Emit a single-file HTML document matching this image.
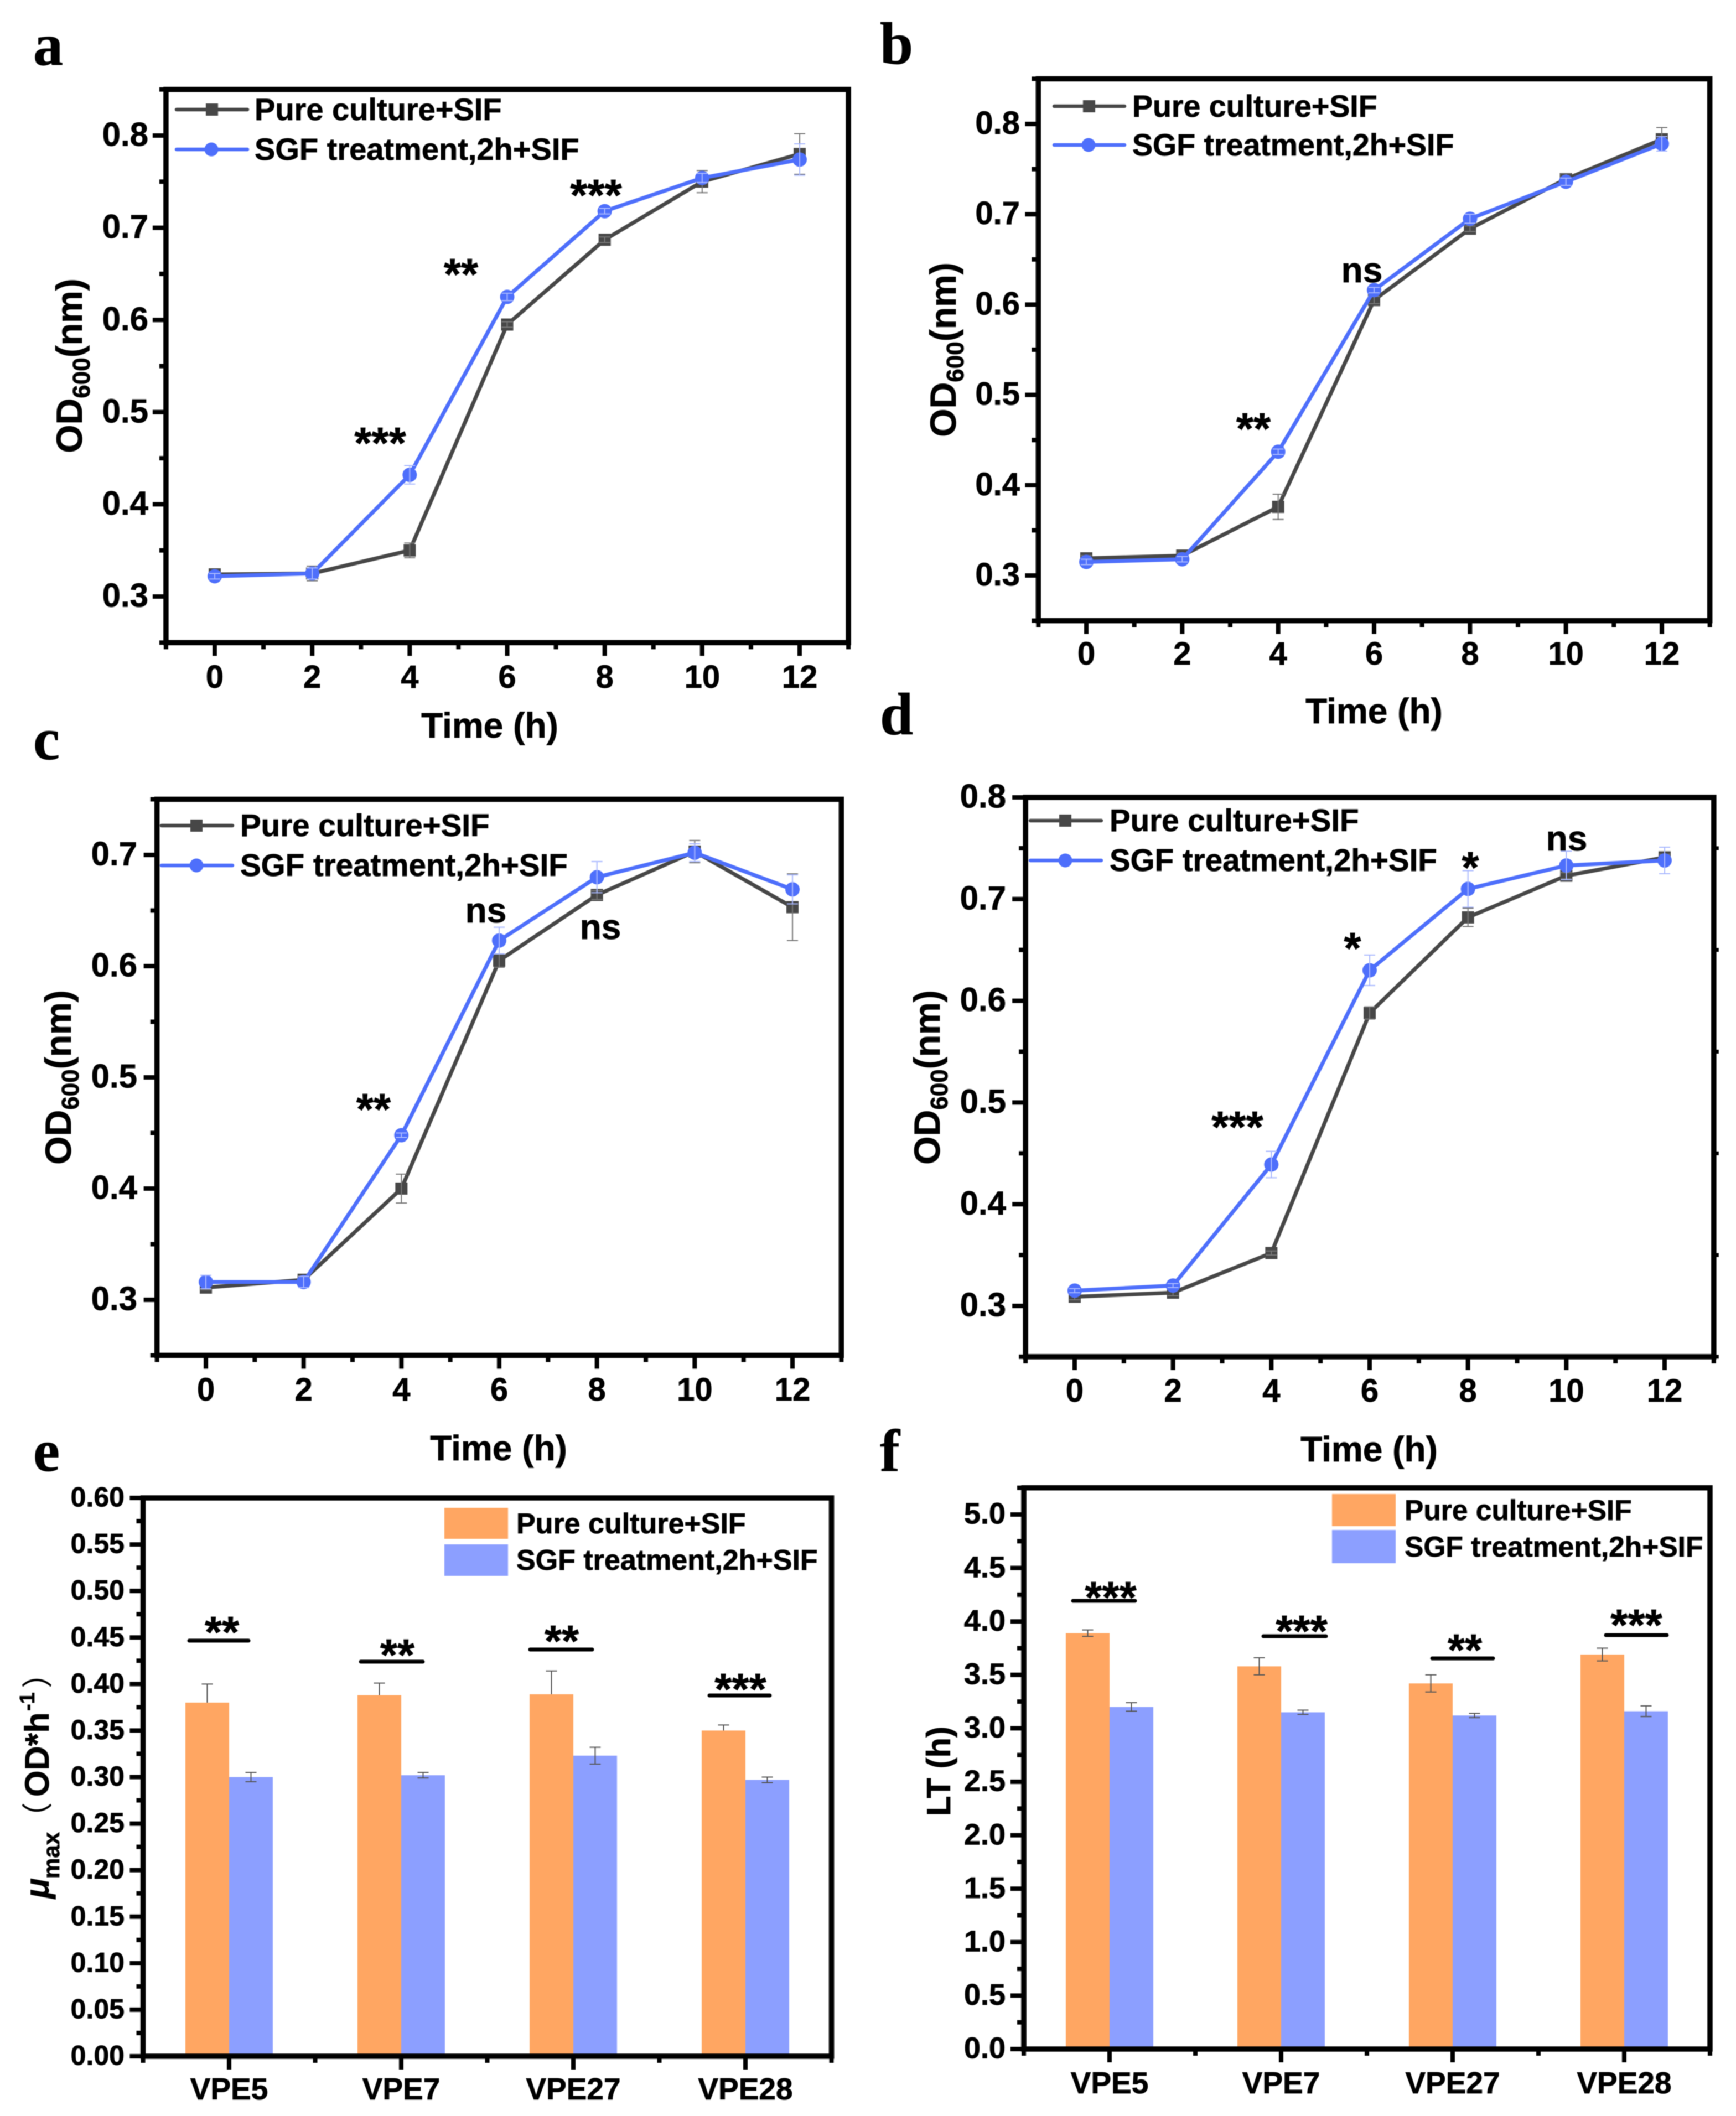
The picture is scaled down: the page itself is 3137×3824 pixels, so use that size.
<!DOCTYPE html>
<html lang="en">
<head>
<meta charset="utf-8">
<title>Growth curves and kinetic parameters</title>
<style>
html,body{margin:0;padding:0;background:#fff;}
svg{display:block;filter:blur(0.9px);}
text{font-family:"Liberation Sans","Noto Sans CJK SC",sans-serif;font-weight:bold;fill:#000;stroke:#000;stroke-width:0.7px;}
.letter{font-family:"Liberation Serif",serif;font-size:108px;}
.leg{font-size:56px;}
.leg2{font-size:52px;}
.title{font-size:64px;text-anchor:middle;}
.ylab{font-size:66px;text-anchor:middle;}
.sub{font-size:44px;}
.star{font-size:80px;text-anchor:middle;}
.ns{font-size:64px;text-anchor:middle;}
.legline{stroke-linecap:round;stroke-width:6.5;}
.sigbar{stroke:#000;stroke-width:7;stroke-linecap:round;}
.paren{font-weight:normal;font-size:56px;stroke-width:0;}
</style>
</head>
<body>
<svg id="figure" xmlns="http://www.w3.org/2000/svg" width="3137" height="3824" viewBox="0 0 3137 3824">
  <rect x="0" y="0" width="3137" height="3824" fill="#fff"/>
  <g id="marks"></g>

  <text class="letter" x="60" y="117">a</text>
  <text class="letter" x="1590" y="115">b</text>
  <text class="letter" x="60" y="1372">c</text>
  <text class="letter" x="1590" y="1327">d</text>
  <text class="letter" x="60" y="2658">e</text>
  <text class="letter" x="1590" y="2658">f</text>

  <text class="title" x="885" y="1333">Time (h)</text>
  <text class="title" x="2483" y="1307">Time (h)</text>
  <text class="title" x="901" y="2639">Time (h)</text>
  <text class="title" x="2474" y="2641">Time (h)</text>

  <text class="ylab" transform="translate(148,661) rotate(-90)">OD<tspan class="sub" dy="14">600</tspan><tspan dy="-14">(nm)</tspan></text>
  <text class="ylab" transform="translate(1727,632) rotate(-90)">OD<tspan class="sub" dy="14">600</tspan><tspan dy="-14">(nm)</tspan></text>
  <text class="ylab" transform="translate(128,1947) rotate(-90)">OD<tspan class="sub" dy="14">600</tspan><tspan dy="-14">(nm)</tspan></text>
  <text class="ylab" transform="translate(1698,1947) rotate(-90)">OD<tspan class="sub" dy="14">600</tspan><tspan dy="-14">(nm)</tspan></text>
  <text font-size="61" transform="translate(88,3431) rotate(-90)"><tspan font-style="italic" font-size="61" x="0" y="0">μ</tspan><tspan font-size="42" x="36" y="19">max</tspan><tspan class="paren" x="118" y="0">（</tspan><tspan x="184" y="0">OD*h</tspan><tspan font-size="38" x="339" y="-26">-1</tspan><tspan class="paren" x="380" y="0">）</tspan></text>
  <text font-size="60" text-anchor="middle" transform="translate(1717,3201) rotate(-90)">LT (h)</text>

  <g>
    <line class="legline" x1="319" x2="447" y1="198" y2="198" stroke="#474747"/>
    <rect x="372" y="187" width="22" height="22" fill="#474747"/>
    <text class="leg" x="460" y="217">Pure culture+SIF</text>
    <line class="legline" x1="319" x2="447" y1="270" y2="270" stroke="#4e6ffb"/>
    <circle cx="382" cy="270" r="12.5" fill="#4e6ffb"/>
    <text class="leg" x="460" y="289">SGF treatment,2h+SIF</text>
  </g>
  <g>
    <line class="legline" x1="1905" x2="2032" y1="192" y2="192" stroke="#474747"/>
    <rect x="1957" y="181" width="22" height="22" fill="#474747"/>
    <text class="leg" style="font-size:55.5px" x="2046" y="211">Pure culture+SIF</text>
    <line class="legline" x1="1905" x2="2032" y1="262" y2="262" stroke="#4e6ffb"/>
    <circle cx="1967" cy="262" r="12.5" fill="#4e6ffb"/>
    <text class="leg" style="font-size:55.5px" x="2046" y="281">SGF treatment,2h+SIF</text>
  </g>
  <g>
    <line class="legline" x1="292" x2="420" y1="1492" y2="1492" stroke="#474747"/>
    <rect x="344" y="1481" width="22" height="22" fill="#474747"/>
    <text class="leg" style="font-size:56.5px" x="434" y="1511">Pure culture+SIF</text>
    <line class="legline" x1="292" x2="420" y1="1564" y2="1564" stroke="#4e6ffb"/>
    <circle cx="355" cy="1564" r="12.5" fill="#4e6ffb"/>
    <text class="leg" style="font-size:56.5px" x="434" y="1583">SGF treatment,2h+SIF</text>
  </g>
  <g>
    <line class="legline" x1="1862" x2="1990" y1="1483" y2="1483" stroke="#474747"/>
    <rect x="1914" y="1472" width="22" height="22" fill="#474747"/>
    <text class="leg" style="font-size:56.5px" x="2005" y="1502">Pure culture+SIF</text>
    <line class="legline" x1="1862" x2="1990" y1="1555" y2="1555" stroke="#4e6ffb"/>
    <circle cx="1925" cy="1555" r="12.5" fill="#4e6ffb"/>
    <text class="leg" style="font-size:56.5px" x="2005" y="1574">SGF treatment,2h+SIF</text>
  </g>
  <g>
    <rect x="803" y="2725" width="115" height="56" fill="#ffa662"/>
    <text class="leg2" x="933" y="2771">Pure culture+SIF</text>
    <rect x="803" y="2791" width="115" height="57" fill="#8c9fff"/>
    <text class="leg2" x="933" y="2837">SGF treatment,2h+SIF</text>
  </g>
  <g>
    <rect x="2407" y="2700" width="115" height="58" fill="#ffa662"/>
    <text class="leg2" style="font-size:51.5px" x="2538" y="2747">Pure culture+SIF</text>
    <rect x="2407" y="2765" width="115" height="60" fill="#8c9fff"/>
    <text class="leg2" style="font-size:51.5px" x="2538" y="2813">SGF treatment,2h+SIF</text>
  </g>

  <g>
    <text class="star" x="687" y="828">***</text>
    <text class="star" x="833" y="523">**</text>
    <text class="star" x="1077" y="380">***</text>
  </g>
  <g>
    <text class="star" x="2265" y="802">**</text>
    <text class="ns" x="2461" y="510">ns</text>
  </g>
  <g>
    <text class="star" x="675" y="2032">**</text>
    <text class="ns" x="878" y="1667">ns</text>
    <text class="ns" x="1085" y="1697">ns</text>
  </g>
  <g>
    <text class="star" x="2236" y="2064">***</text>
    <text class="star" x="2444" y="1741">*</text>
    <text class="star" x="2657" y="1595">*</text>
    <text class="ns" x="2831" y="1537">ns</text>
  </g>
  <g>
    <line class="sigbar" x1="342" x2="449" y1="2965" y2="2965"/>
    <text class="star" x="401" y="2977">**</text>
    <line class="sigbar" x1="652" x2="764" y1="3003" y2="3003"/>
    <text class="star" x="718" y="3018">**</text>
    <line class="sigbar" x1="958" x2="1070" y1="2981" y2="2981"/>
    <text class="star" x="1015" y="2993">**</text>
    <line class="sigbar" x1="1282" x2="1391" y1="3064" y2="3064"/>
    <text class="star" x="1338" y="3080">***</text>
  </g>
  <g>
    <line class="sigbar" x1="1939" x2="2051" y1="2893" y2="2893"/>
    <text class="star" x="2007" y="2914">***</text>
    <line class="sigbar" x1="2283" x2="2396" y1="2957" y2="2957"/>
    <text class="star" x="2352" y="2975">***</text>
    <line class="sigbar" x1="2588" x2="2698" y1="2997" y2="2997"/>
    <text class="star" x="2647" y="3009">**</text>
    <line class="sigbar" x1="2902" x2="3012" y1="2955" y2="2955"/>
    <text class="star" x="2957" y="2964">***</text>
  </g>
</svg>
<script>
// ---- chart data ----
const times = [0, 2, 4, 6, 8, 10, 12];
const timeTickLabels = ['0', '2', '4', '6', '8', '10', '12'];
const timeMinor = [-1, 1, 3, 5, 7, 9, 11, 13];

const aPure = [0.324, 0.325, 0.350, 0.595, 0.687, 0.750, 0.780];
const aSgf = [0.322, 0.325, 0.432, 0.625, 0.718, 0.754, 0.774];
const aPureErr = [0.003, 0.008, 0.008, 0.003, 0.003, 0.012, 0.022];
const aSgfErr = [0.003, 0.006, 0.010, 0.004, 0.003, 0.005, 0.017];

const bPure = [0.319, 0.322, 0.376, 0.605, 0.684, 0.739, 0.783];
const bSgf = [0.315, 0.318, 0.437, 0.616, 0.695, 0.736, 0.778];
const bPureErr = [0.003, 0.003, 0.014, 0.004, 0.003, 0.006, 0.013];
const bSgfErr = [0.003, 0.003, 0.003, 0.003, 0.005, 0.004, 0.008];

const cPure = [0.311, 0.318, 0.400, 0.605, 0.664, 0.703, 0.653];
const cSgf = [0.316, 0.316, 0.448, 0.623, 0.680, 0.702, 0.669];
const cPureErr = [0.002, 0.003, 0.013, 0.006, 0.004, 0.010, 0.030];
const cSgfErr = [0.006, 0.005, 0.002, 0.012, 0.014, 0.008, 0.013];

const dPure = [0.309, 0.313, 0.352, 0.588, 0.682, 0.723, 0.741];
const dSgf = [0.315, 0.320, 0.439, 0.630, 0.710, 0.733, 0.738];
const dPureErr = [0.003, 0.003, 0.002, 0.006, 0.009, 0.003, 0.003];
const dSgfErr = [0.002, 0.002, 0.013, 0.015, 0.018, 0.014, 0.013];

const strains = ['VPE5', 'VPE7', 'VPE27', 'VPE28'];
const ePure = [0.380, 0.388, 0.389, 0.350];
const eSgf = [0.300, 0.302, 0.323, 0.297];
const ePureErr = [0.020, 0.013, 0.025, 0.006];
const eSgfErr = [0.005, 0.003, 0.009, 0.003];

const fPure = [3.89, 3.58, 3.42, 3.69];
const fSgf = [3.20, 3.15, 3.12, 3.16];
const fPureErr = [0.03, 0.08, 0.08, 0.06];
const fSgfErr = [0.04, 0.02, 0.02, 0.05];

const abTicks = ['0.3', '0.4', '0.5', '0.6', '0.7', '0.8'];
const abMinor = [0.25, 0.35, 0.45, 0.55, 0.65, 0.75, 0.85];
const cTicks = ['0.3', '0.4', '0.5', '0.6', '0.7'];
const cMinor = [0.25, 0.35, 0.45, 0.55, 0.65, 0.75];
const dTicks = ['0.3', '0.4', '0.5', '0.6', '0.7', '0.8'];
const dMinor = [0.25, 0.35, 0.45, 0.55, 0.65, 0.75];
const eTicks = ['0.00', '0.05', '0.10', '0.15', '0.20', '0.25', '0.30', '0.35', '0.40', '0.45', '0.50', '0.55', '0.60'];
const eMinor = [0.025, 0.075, 0.125, 0.175, 0.225, 0.275, 0.325, 0.375, 0.425, 0.475, 0.525, 0.575];
const fTicks = ['0.0', '0.5', '1.0', '1.5', '2.0', '2.5', '3.0', '3.5', '4.0', '4.5', '5.0'];
const fMinor = [0.25, 0.75, 1.25, 1.75, 2.25, 2.75, 3.25, 3.75, 4.25, 4.75, 5.25];

// ---- rendering ----
const NS = 'http://www.w3.org/2000/svg';
const root = document.getElementById('marks');
const PURE_LINE = '#474747', SGF_LINE = '#4e6ffb';
const PURE_BAR = '#ffa662', SGF_BAR = '#8c9fff';

function mk(parent, tag, attrs, txt) {
  const el = document.createElementNS(NS, tag);
  for (const k in attrs) el.setAttribute(k, attrs[k]);
  if (txt !== undefined) el.textContent = txt;
  parent.appendChild(el);
  return el;
}
function axis(pxA, pxB, vA, vB) {
  const k = (pxB - pxA) / (vB - vA);
  return function (v) { return pxA + (v - vA) * k; };
}
function group(parent, name) {
  const g = mk(parent, 'g', {});
  
  
  return g;
}
function seg(parent, name, x1, y1, x2, y2, color, w, op) {
  const el = mk(parent, 'line', { x1: x1, y1: y1, x2: x2, y2: y2, stroke: color, 'stroke-width': w, 'stroke-opacity': op === undefined ? 1 : op });
  
  
  return el;
}

function drawFrame(g, p, X, Y) {
  const x0 = X(p.xDom[0]), x1 = X(p.xDom[1]), y0 = Y(p.yDom[0]), y1 = Y(p.yDom[1]);
  const frame = mk(g, 'rect', { x: x0, y: y1, width: x1 - x0, height: y0 - y1, fill: 'none', stroke: '#000', 'stroke-width': 9.5 });
  
  
  return { x0: x0, x1: x1, y0: y0, y1: y1 };
}
function drawYTicks(g, p, Y, b) {
  p.yTicks.forEach(function (lab) {
    const v = parseFloat(lab), y = Y(v);
    seg(g, 'y-tick', b.x0 - 24, y, b.x0, y, '#000', 8);
    const t = mk(g, 'text', { x: p.yLabelX, y: y + p.yFont * 0.31, 'font-size': p.yFont, 'text-anchor': 'end' }, lab);
    
    
  });
  p.yMinor.forEach(function (v) {
    const y = Y(v);
    seg(g, 'y-minor-tick', b.x0 - 12, y, b.x0, y, '#000', 8);
    if (p.rightMinor) seg(g, 'y-minor-tick-right', b.x1, y, b.x1 + 9, y, '#000', 7);
  });
}

function drawLinePanel(p) {
  const g = group(root, 'line-chart-' + p.id);
  const X = axis(p.xPx[0], p.xPx[1], 0, 12);
  const Y = axis(p.yPx[0], p.yPx[1], p.yVal[0], p.yVal[1]);
  const b = drawFrame(g, p, X, Y);
  timeTickLabels.forEach(function (lab) {
    const v = parseFloat(lab), x = X(v);
    seg(g, 'x-tick', x, b.y0, x, b.y0 + 24, '#000', 8);
    const t = mk(g, 'text', { x: x, y: p.xLabelY, 'font-size': p.xFont, 'text-anchor': 'middle' }, lab);
    
    
  });
  timeMinor.forEach(function (v) {
    seg(g, 'x-minor-tick', X(v), b.y0, X(v), b.y0 + 12, '#000', 8);
  });
  drawYTicks(g, p, Y, b);

  const sPure = group(g, 'series-pure-culture');
  const sSgf = group(g, 'series-sgf-treatment');
  const linePure = mk(sPure, 'polyline', { points: times.map(function (t, i) { return X(t) + ',' + Y(p.pure[i]); }).join(' '), fill: 'none', stroke: PURE_LINE, 'stroke-width': 7, 'stroke-linejoin': 'round' });
  
  
  times.forEach(function (t, i) {
    const pt = mk(sPure, 'rect', { x: X(t) - 11, y: Y(p.pure[i]) - 11, width: 22, height: 22, fill: PURE_LINE });
    
    
  });
  const lineSgf = mk(sSgf, 'polyline', { points: times.map(function (t, i) { return X(t) + ',' + Y(p.sgf[i]); }).join(' '), fill: 'none', stroke: SGF_LINE, 'stroke-width': 7, 'stroke-linejoin': 'round' });
  
  
  times.forEach(function (t, i) {
    const pt = mk(sSgf, 'circle', { cx: X(t), cy: Y(p.sgf[i]), r: 13, fill: SGF_LINE });
    
    
  });
  times.forEach(function (t, i) {
    const x = X(t);
    const pu = Y(p.pure[i] + p.pureErr[i]), pd = Y(p.pure[i] - p.pureErr[i]);
    seg(sPure, 'error-bar-pure', x, pu, x, pd, '#777', 2);
    seg(sPure, 'error-cap-pure', x - 10, pu, x + 10, pu, '#777', 2);
    seg(sPure, 'error-cap-pure', x - 10, pd, x + 10, pd, '#777', 2);
    const su = Y(p.sgf[i] + p.sgfErr[i]), sd = Y(p.sgf[i] - p.sgfErr[i]);
    seg(sSgf, 'error-bar-sgf', x, su, x, sd, '#a9b8ff', 2);
    seg(sSgf, 'error-cap-sgf', x - 10, su, x + 10, su, '#a9b8ff', 2);
    seg(sSgf, 'error-cap-sgf', x - 10, sd, x + 10, sd, '#a9b8ff', 2);
  });
}

function drawBarPanel(p) {
  const g = group(root, 'bar-chart-' + p.id);
  const X = axis(p.xPx[0], p.xPx[1], 0, 3);
  const Y = axis(p.yPx[0], p.yPx[1], p.yVal[0], p.yVal[1]);
  const w = 79;
  strains.forEach(function (name, i) {
    const x = X(i);
    const r1 = mk(g, 'rect', { x: x - w, y: Y(p.pure[i]), width: w, height: Y(0) - Y(p.pure[i]), fill: PURE_BAR });
    
    
    const r2 = mk(g, 'rect', { x: x, y: Y(p.sgf[i]), width: w, height: Y(0) - Y(p.sgf[i]), fill: SGF_BAR });
    
    
    const ex1 = x - w / 2, ex2 = x + w / 2;
    const a1 = Y(p.pure[i] + p.pureErr[i]);
    const a2 = p.pureUpOnly ? Y(p.pure[i]) : Y(p.pure[i] - p.pureErr[i]);
    seg(g, 'error-bar-pure', ex1, a1, ex1, a2, '#555', 2);
    seg(g, 'error-cap-pure', ex1 - 10, a1, ex1 + 10, a1, '#555', 2);
    if (!p.pureUpOnly) seg(g, 'error-cap-pure', ex1 - 10, a2, ex1 + 10, a2, '#555', 2);
    const c1 = Y(p.sgf[i] + p.sgfErr[i]), c2 = Y(p.sgf[i] - p.sgfErr[i]);
    seg(g, 'error-bar-sgf', ex2, c1, ex2, c2, '#555', 2);
    seg(g, 'error-cap-sgf', ex2 - 10, c1, ex2 + 10, c1, '#555', 2);
    seg(g, 'error-cap-sgf', ex2 - 10, c2, ex2 + 10, c2, '#555', 2);
  });
  const b = drawFrame(g, p, X, Y);
  strains.forEach(function (name, i) {
    const x = X(i);
    seg(g, 'x-tick', x, b.y0, x, b.y0 + 24, '#000', 8);
    const t = mk(g, 'text', { x: x, y: p.xLabelY, 'font-size': p.xFont, 'text-anchor': 'middle' }, name);
    
    
    seg(g, 'x-minor-tick', x + (X(1) - X(0)) / 2, b.y0, x + (X(1) - X(0)) / 2, b.y0 + 12, '#000', 8);
  });
  seg(g, 'x-minor-tick', b.x0, b.y0, b.x0, b.y0 + 12, '#000', 8);
  drawYTicks(g, p, Y, b);
}

drawLinePanel({ id: 'a', pure: aPure, sgf: aSgf, pureErr: aPureErr, sgfErr: aSgfErr,
  xPx: [388, 1445], yPx: [1078, 245], yVal: [0.3, 0.8], xDom: [-1, 13], yDom: [0.25, 0.85],
  yTicks: abTicks, yMinor: abMinor, yLabelX: 268, yFont: 60, xLabelY: 1243, xFont: 58 });
drawLinePanel({ id: 'b', pure: bPure, sgf: bSgf, pureErr: bPureErr, sgfErr: bSgfErr,
  xPx: [1963, 3003], yPx: [1040, 224], yVal: [0.3, 0.8], xDom: [-1, 13], yDom: [0.25, 0.85],
  yTicks: abTicks, yMinor: abMinor, yLabelX: 1843, yFont: 58, xLabelY: 1201, xFont: 58 });
drawLinePanel({ id: 'c', pure: cPure, sgf: cSgf, pureErr: cPureErr, sgfErr: cSgfErr,
  xPx: [372, 1432], yPx: [2349, 1545], yVal: [0.3, 0.7], xDom: [-1, 13], yDom: [0.25, 0.75],
  yTicks: cTicks, yMinor: cMinor, yLabelX: 248, yFont: 60, xLabelY: 2531, xFont: 58 });
drawLinePanel({ id: 'd', pure: dPure, sgf: dSgf, pureErr: dPureErr, sgfErr: dSgfErr,
  xPx: [1942, 3008], yPx: [2360, 1441], yVal: [0.3, 0.8], xDom: [-1, 13], yDom: [0.25, 0.8],
  yTicks: dTicks, yMinor: dMinor, yLabelX: 1818, yFont: 60, xLabelY: 2533, xFont: 58, rightMinor: true });
drawBarPanel({ id: 'e', pure: ePure, sgf: eSgf, pureErr: ePureErr, sgfErr: eSgfErr, pureUpOnly: true,
  xPx: [414, 1347], yPx: [3716, 2707], yVal: [0, 0.6], xDom: [-0.5, 3.5], yDom: [0, 0.6],
  yTicks: eTicks, yMinor: eMinor, yLabelX: 225, yFont: 50, xLabelY: 3794, xFont: 55 });
drawBarPanel({ id: 'f', pure: fPure, sgf: fSgf, pureErr: fPureErr, sgfErr: fSgfErr,
  xPx: [2005, 2935], yPx: [3703, 2737], yVal: [0, 5], xDom: [-0.5, 3.5], yDom: [0, 5.25],
  yTicks: fTicks, yMinor: fMinor, yLabelX: 1817, yFont: 54, xLabelY: 3783, xFont: 55 });
</script>
</body>
</html>
